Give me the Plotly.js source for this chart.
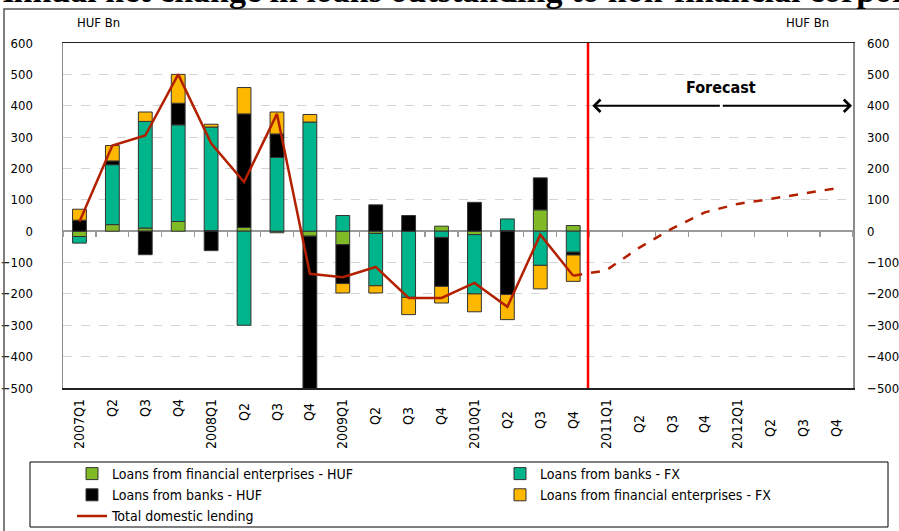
<!DOCTYPE html>
<html>
<head>
<meta charset="utf-8">
<script src="https://cdn.plot.ly/plotly-3.0.1.min.js"></script>
<style>
  html, body { margin: 0; padding: 0; background: #fff; }
  #plotArea { width: 899px; height: 531px; }
</style>
</head>
<body>
<div id="plotArea"></div>
<script>
// Quarters on the x axis
var quarters = ["2007Q1", "Q2", "Q3", "Q4", "2008Q1", "Q2 ", "Q3 ", "Q4 ",
    "2009Q1", "Q2  ", "Q3  ", "Q4  ", "2010Q1", "Q2   ", "Q3   ", "Q4   ",
    "2011Q1", "Q2    ", "Q3    ", "Q4    ", "2012Q1", "Q2     ", "Q3     ", "Q4     "];

// Actual data, 2007Q1 - 2010Q4 (HUF Bn)
var finEntHUF = [-17, 21, 10, 31, 2, 12, -5, -16, -43, -7, 0, 16, -11, 2, 68, 18];
var banksFX = [-21, 191, 340, 308, 330, -300, 235, 348, 50, -167, -211, -20, -189, 37, -109, -67];
var banksHUF = [35, 12, -75, 69, -62, 362, 75, -490, -124, 84, 50, -156, 92, -202, 102, -9];
var finEntFX = [35, 49, 30, 92, 9, 84, 70, 24, -30, -23, -55, -53, -57, -80, -75, -84];
var totalLending = [30, 273, 305, 500, 280, 157, 374, -136, -147, -114, -213, -213, -165, -241, -11, -142];

// Forecast, 2010Q4 - 2012Q4
var forecastLending = [-142, -125, -53, 8, 60, 87, 103, 119, 137];

var actualQ = quarters.slice(0, 16);
var forecastQ = quarters.slice(15);

var font = "DejaVu Sans Condensed, DejaVu Sans, sans-serif";
var barLine = {color: "#333333", width: 1};

// legend has two columns -> two legends
function barTrace(name, values, color, legend) {
    return {
        type: "bar",
        name: name,
        x: actualQ,
        y: values,
        legend: legend,
        marker: {color: color, line: barLine},
        hoverinfo: "x+y+name"
    };
}

var data = [
    barTrace("Loans from financial enterprises - HUF", finEntHUF, "#80BA27", "legend"),
    barTrace("Loans from banks - FX", banksFX, "#00B48B", "legend2"),
    barTrace("Loans from banks - HUF", banksHUF, "#000000", "legend"),
    barTrace("Loans from financial enterprises - FX", finEntFX, "#FFB800", "legend2"),
    {
        type: "scatter",
        mode: "lines",
        name: "Total domestic lending",
        x: actualQ,
        y: totalLending,
        legend: "legend",
        line: {color: "#B22000", width: 2.5}
    },
    {
        type: "scatter",
        mode: "lines",
        name: "Forecast",
        showlegend: false,
        x: forecastQ,
        y: forecastLending,
        line: {color: "#B22000", width: 2.5, dash: "dash"}
    },
    // empty traces so the right axis and zero-line ticks get drawn
    {type: "scatter", x: [quarters[0]], y: [null], yaxis: "y2", showlegend: false, hoverinfo: "skip"},
    {type: "scatter", x: [0, 23], y: [null, null], xaxis: "x2", showlegend: false, hoverinfo: "skip"}
];

// pixel helpers for paper-positioned things (plot area 63..853 x 43..388)
function px(x) { return (x - 63) / 790; }
function py(y) { return (388 - y) / 345; }

var yCommon = {
    range: [-500, 600],
    dtick: 100,
    showline: true,
    linecolor: "#8c8c8c",
    linewidth: 1.5,
    ticks: "",
    tickfont: {family: font, size: 13, color: "#000"},
    fixedrange: true,
    automargin: false
};

var legendCommon = {
    orientation: "v",
    xref: "container",
    yref: "container",
    xanchor: "left",
    y: 1 - 458 / 531,
    yanchor: "top",
    font: {family: font, size: 14, color: "#000"},
    bgcolor: "rgba(0,0,0,0)",
    traceorder: "normal"
};

var layout = {
    width: 899,
    height: 531,
    margin: {l: 63, r: 46, t: 43, b: 143, autoexpand: false},
    paper_bgcolor: "#fff",
    plot_bgcolor: "#fff",
    barmode: "relative",
    bargap: 0.58,
    showlegend: true,
    font: {family: font, size: 13, color: "#000"},
    xaxis: {
        type: "category",
        categoryorder: "array",
        categoryarray: quarters,
        range: [-0.5, 23.5],
        tickangle: -90,
        showline: true,
        mirror: true,
        linecolor: "#222",
        linewidth: 1.5,
        ticks: "",
        ticklabelstandoff: 4,
        tickfont: {family: font, size: 14, color: "#000"},
        showgrid: false,
        automargin: false
    },
    xaxis2: {
        overlaying: "x",
        anchor: "free",
        position: 500 / 1100,
        range: [-0.5, 23.5],
        tick0: 0.5,
        dtick: 1,
        ticks: "outside",
        ticklen: 5,
        tickwidth: 1.2,
        tickcolor: "#9a9a9a",
        showticklabels: false,
        showgrid: false,
        showline: false,
        zeroline: false
    },
    yaxis: Object.assign({}, yCommon, {
        side: "left",
        ticklabelstandoff: 26,
        showgrid: true,
        gridcolor: "#d4d4d4",
        gridwidth: 1,
        griddash: "dash",
        zeroline: true,
        zerolinecolor: "#9a9a9a",
        zerolinewidth: 1.5
    }),
    yaxis2: Object.assign({}, yCommon, {
        side: "right",
        overlaying: "y",
        ticklabelstandoff: 10,
        showgrid: false,
        zeroline: false
    }),
    legend: Object.assign({}, legendCommon, {x: 72 / 899}),
    legend2: Object.assign({}, legendCommon, {x: 500 / 899}),
    shapes: [
        // forecast divider
        {type: "line", xref: "x", yref: "paper", x0: 15.45, x1: 15.45, y0: 0, y1: 1,
            line: {color: "#FF0000", width: 2.5}},
        // legend box
        {type: "rect", xref: "paper", yref: "paper", x0: px(30), x1: px(888), y0: py(462), y1: py(527),
            line: {color: "#000", width: 1}},
        // outer frame
        {type: "rect", xref: "paper", yref: "paper", x0: px(4), x1: px(905), y0: py(9), y1: py(540),
            line: {color: "#555", width: 1.5}}
    ],
    annotations: [
        {text: "Annual net change in loans outstanding to non-financial corporations",
            xref: "paper", yref: "paper", x: px(-13), y: py(11), xanchor: "left", yanchor: "bottom",
            showarrow: false, font: {family: "Liberation Serif, serif", size: 34, color: "#000", weight: "bold"}},
        {text: "HUF Bn", xref: "paper", yref: "paper", x: px(75), y: py(23), xanchor: "left", yanchor: "middle",
            showarrow: false, font: {family: font, size: 13}},
        {text: "HUF Bn", xref: "paper", yref: "paper", x: px(831), y: py(23), xanchor: "right", yanchor: "middle",
            showarrow: false, font: {family: font, size: 13}},
        {text: "<b>Forecast</b>", xref: "x", yref: "y", x: 19.5, y: 457, showarrow: false,
            font: {family: font, size: 16}},
        {text: "", xref: "x", yref: "y", axref: "x", ayref: "y", x: 23.47, y: 400, ax: 19.5, ay: 400,
            showarrow: true, arrowhead: 4, arrowsize: 1.1, arrowwidth: 2.2, arrowcolor: "#000"},
        {text: "", xref: "x", yref: "y", axref: "x", ayref: "y", x: 15.58, y: 400, ax: 19.5, ay: 400,
            showarrow: true, arrowhead: 4, arrowsize: 1.1, arrowwidth: 2.2, arrowcolor: "#000"}
    ]
};

Plotly.newPlot("plotArea", data, layout, {displayModeBar: false, staticPlot: true});
</script>
</body>
</html>
